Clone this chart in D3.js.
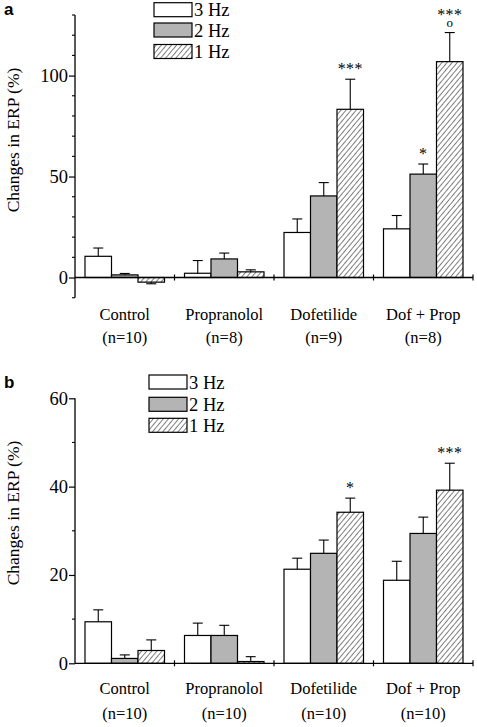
<!DOCTYPE html>
<html><head><meta charset="utf-8">
<script src="https://cdn.jsdelivr.net/npm/d3@7"></script>
<style>body{margin:0;background:#fff}svg{display:block}</style>
</head><body>
<script>
const categories = ["Control","Propranolol","Dofetilide","Dof + Prop"];
const series = ["3 Hz","2 Hz","1 Hz"];
const nA = ["(n=10)","(n=8)","(n=9)","(n=8)"];
const nB = ["(n=10)","(n=10)","(n=10)","(n=10)"];
// panel a values (mean) and SEM
const a3 = [10.5, 2.1, 22.3, 24.1], a3sem = [4.1, 6.3, 6.7, 6.6];
const a2 = [1.3, 9.2, 40.4, 51.2], a2sem = [0.7, 2.9, 6.6, 5.0];
const a1 = [-2.3, 2.8, 83.3, 106.9], a1sem = [0.8, 1.0, 14.9, 14.4];
// panel b
const b3 = [9.4, 6.3, 21.3, 18.8], b3sem = [2.7, 2.8, 2.5, 4.3];
const b2 = [1.1, 6.3, 24.9, 29.4], b2sem = [0.8, 2.3, 3.0, 3.7];
const b1 = [2.9, 0.4, 34.2, 39.2], b1sem = [2.4, 1.1, 3.2, 6.1];
const yTicksA = [0, 50, 100], yMinorA = d3.range(-10, 131, 10);
const yTicksB = [0, 20, 40, 60], yMinorB = d3.range(0, 61, 10);
// significance marks: [category index, series index, label, extra]
const sigA = [[2, 2, "***", ""], [3, 1, "*", ""], [3, 2, "***", "o"]];
const sigB = [[2, 2, "*", ""], [3, 2, "***", ""]];

const W = 477, H = 727;
const svg = d3.select("body").append("svg").attr("width", W).attr("height", H);
const defs = svg.append("defs");
const pat = defs.append("pattern").attr("id","hatch").attr("patternUnits","userSpaceOnUse")
  .attr("width",3.9).attr("height",10).attr("patternTransform","rotate(40)");
pat.append("rect").attr("width",3.9).attr("height",10).attr("fill","#fff");
pat.append("line").attr("x1",0).attr("y1",0).attr("x2",0).attr("y2",10).attr("stroke","#000").attr("stroke-width",1);

const fills = ["#ffffff", "#b4b4b4", "url(#hatch)"];
const serif = "'Liberation Serif','Times New Roman',serif";

function panel(opt) {
  const g = svg.append("g");
  const x = d3.scaleBand().domain(categories).range([75, 473]).padding(0);
  const xs = d3.scaleBand().domain(series).range([10, x.bandwidth() - 10]).padding(0);
  const y = d3.scaleLinear().domain(opt.domain).range(opt.range);
  const vals = opt.vals, sems = opt.sems;

  // bars
  series.forEach((s, si) => {
    const data = categories.map((c, ci) => ({c, v: vals[si][ci], e: sems[si][ci]}));
    g.selectAll(null).data(data).enter().append("rect")
      .attr("x", d => x(d.c) + xs(s))
      .attr("width", xs.bandwidth())
      .attr("y", d => Math.min(y(d.v), y(0)))
      .attr("height", d => Math.abs(y(d.v) - y(0)))
      .attr("fill", fills[si]).attr("stroke", "#000").attr("stroke-width", 1.2);
    // error bars
    data.forEach(d => {
      const cx = x(d.c) + xs(s) + xs.bandwidth() / 2;
      const top = d.v >= 0 ? d.v + d.e : d.v - d.e;
      g.append("line").attr("x1", cx).attr("x2", cx).attr("y1", y(d.v)).attr("y2", y(top))
        .attr("stroke", "#000").attr("stroke-width", 1.1);
      g.append("line").attr("x1", cx - 5).attr("x2", cx + 5).attr("y1", y(top)).attr("y2", y(top))
        .attr("stroke", "#000").attr("stroke-width", 1.1);
    });
  });

  // y axis
  const ya = g.append("g").attr("transform", "translate(75,0)")
    .call(d3.axisLeft(y).tickValues(opt.ticks).tickSize(6).tickPadding(1).tickFormat(d3.format("d")));
  ya.select(".domain").attr("d", `M0,${opt.range[0]}V${opt.range[1]}`).attr("stroke-width", 1.3);
  ya.selectAll(".tick line").attr("stroke-width", 1.2);
  ya.selectAll("text").attr("font-family", serif).attr("font-size", 18.5).attr("fill", "#000");
  g.selectAll(null).data(opt.minor.filter(v => !opt.ticks.includes(v))).enter().append("line")
    .attr("x1", 72).attr("x2", 75).attr("y1", d => y(d)).attr("y2", d => y(d))
    .attr("stroke", "#000").attr("stroke-width", 1.1);

  // x axis
  const y0 = y(0);
  g.append("line").attr("x1", 75).attr("x2", 473).attr("y1", y0).attr("y2", y0)
    .attr("stroke", "#000").attr("stroke-width", 1.3);
  g.selectAll(null).data(categories).enter().append("line")
    .attr("x1", d => x(d) + x.bandwidth()).attr("x2", d => x(d) + x.bandwidth())
    .attr("y1", y0 - 3).attr("y2", y0 + 3).attr("stroke", "#000").attr("stroke-width", 1.2);

  // category labels
  g.selectAll(null).data(categories).enter().append("text")
    .attr("x", d => x(d) + x.bandwidth() / 2).attr("y", opt.catY)
    .attr("text-anchor", "middle").attr("font-family", serif).attr("font-size", 16.5).attr("fill", "#000").text(d => d);
  g.selectAll(null).data(opt.n).enter().append("text")
    .attr("x", (d, i) => x(categories[i]) + x.bandwidth() / 2).attr("y", opt.nY)
    .attr("text-anchor", "middle").attr("font-family", serif).attr("font-size", 16.5).attr("fill", "#000").text(d => d);

  // y title
  g.append("text").attr("transform", `translate(19,${opt.titleY}) rotate(-90)`)
    .attr("text-anchor", "middle").attr("font-family", serif).attr("font-size", 17.5).attr("fill", "#000")
    .text("Changes in ERP (%)");

  // panel letter
  g.append("text").attr("x", 4).attr("y", opt.letterY).attr("font-family", "'Liberation Sans',Arial,sans-serif")
    .attr("font-weight", "bold").attr("font-size", 17).attr("fill", "#000").text(opt.letter);

  // significance
  opt.sig.forEach(([ci, si, lab, extra]) => {
    const cx = x(categories[ci]) + xs(series[si]) + xs.bandwidth() / 2;
    const top = y(vals[si][ci] + sems[si][ci]);
    let base = top - 5.5;
    if (extra) {
      g.append("text").attr("x", cx).attr("y", base).attr("text-anchor", "middle")
        .attr("font-family", serif).attr("font-size", 13).attr("fill", "#000").text(extra);
      base -= 8;
    }
    g.append("text").attr("x", cx).attr("y", base + 0.5).attr("text-anchor", "middle")
      .attr("font-family", serif).attr("font-size", 16).attr("fill", "#000").attr("letter-spacing", 0.3).text(lab);
  });

  // legend
  series.forEach((s, si) => {
    const ly = opt.legY[si];
    g.append("rect").attr("x", opt.legX).attr("y", ly).attr("width", 38).attr("height", 14)
      .attr("fill", fills[si]).attr("stroke", "#000").attr("stroke-width", 1.2);
    g.append("text").attr("x", opt.legX + 40).attr("y", ly + 13.5)
      .attr("font-family", serif).attr("font-size", 18.5).attr("fill", "#000").text(s);
  });
}

panel({
  domain: [-10, 130], range: [297.7, 15], ticks: yTicksA, minor: yMinorA,
  vals: [a3, a2, a1], sems: [a3sem, a2sem, a1sem], n: nA,
  catY: 320, nY: 343, titleY: 140, letter: "a", letterY: 15, sig: sigA,
  legX: 154, legY: [2.7, 23, 44.5]
});
panel({
  domain: [0, 60], range: [663.3, 398.3], ticks: yTicksB, minor: yMinorB,
  vals: [b3, b2, b1], sems: [b3sem, b2sem, b1sem], n: nB,
  catY: 694, nY: 719, titleY: 513, letter: "b", letterY: 388, sig: sigB,
  legX: 149, legY: [375, 397.3, 418.3]
});
</script>
</body></html>
